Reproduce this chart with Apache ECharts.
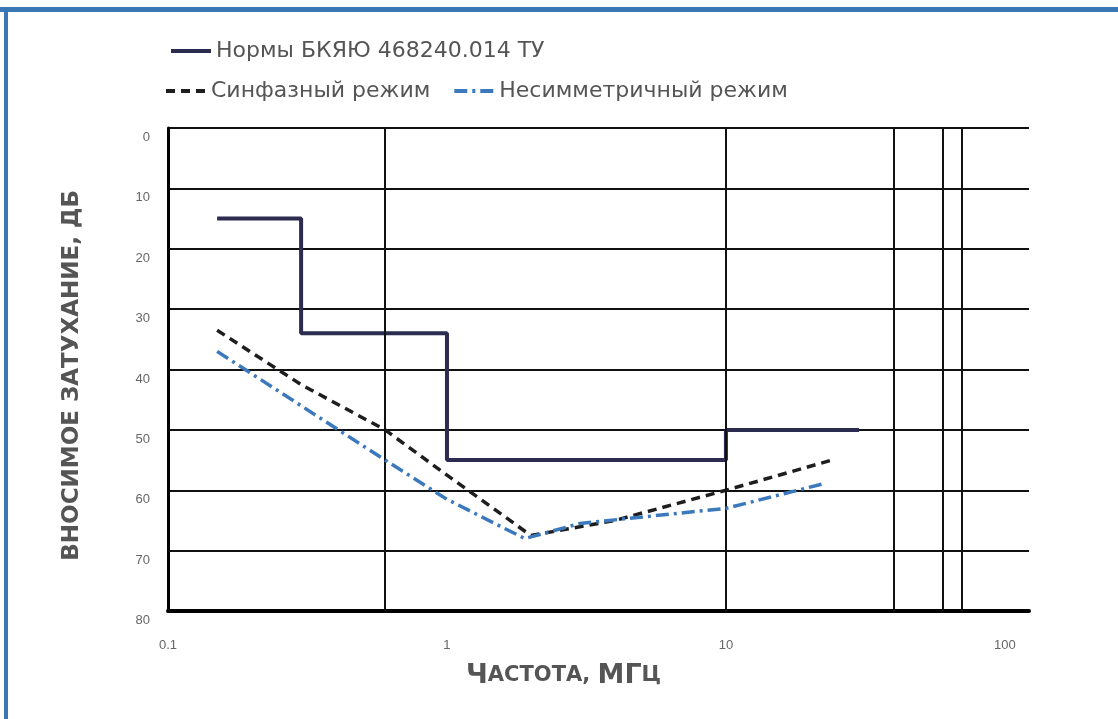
<!DOCTYPE html>
<html>
<head>
<meta charset="utf-8">
<script src="https://cdn.jsdelivr.net/npm/echarts@6/dist/echarts.min.js"></script>
<style>
  html, body { margin: 0; padding: 0; background: #fff; }
  #myChart { width: 1118px; height: 719px; }
</style>
</head>
<body>
<div id="myChart"></div>
<script>
// данные (x - МГц, y - дБ)
var normName = 'Нормы БКЯЮ 468240.014 ТУ';
var cmName = 'Синфазный режим';
var asymName = 'Несимметричный режим';

var normFreq = [0.15, 0.3, 0.3, 1, 1, 10, 10, 30];
var normVal  = [15, 15, 34, 34, 55, 55, 50, 50];

var cmFreq = [0.15, 0.3, 0.6, 1, 2, 4, 10, 24];
var cmVal  = [33.5, 42.5, 50, 57.5, 67.5, 65, 60, 55];

var asymFreq = [0.15, 0.3, 0.6, 1, 1.9, 3, 10, 22];
var asymVal  = [37, 46, 55, 61.5, 68, 65.5, 63, 59];

var xTickLabels = ['0.1', '1', '10', '100'];
var yTicks = [0, 10, 20, 30, 40, 50, 60, 70, 80];
var vLines = [0.6, 10, 40, 60, 70];

function pairs (xs, ys) {
  return xs.map(function (x, i) { return [x, ys[i]]; });
}

var myChart = echarts.init(document.getElementById('myChart'));
var legendText = { color: '#555', fontSize: 22, fontFamily: 'DejaVu Sans, sans-serif' };
var titleFont = 'DejaVu Sans, sans-serif';

var option = {
  animation: false,
  backgroundColor: '#fff',
  legend: [{
    data: [normName],
    left: 164,
    top: 35,
    itemWidth: 40,
    itemHeight: 14,
    itemGap: 8,
    itemStyle: { opacity: 0 },
    lineStyle: { width: 4 },
    textStyle: legendText
  }, {
    data: [cmName, asymName],
    left: 159,
    top: 75,
    itemGap: 22,
    itemWidth: 40,
    itemHeight: 14,
    itemStyle: { opacity: 0 },
    lineStyle: { width: 4 },
    textStyle: legendText
  }],
  grid: {
    left: 168,
    right: 89,
    top: 128,
    bottom: 108
  },
  xAxis: {
    type: 'log',
    logBase: 10,
    min: 0.1,
    max: 122,
    axisLine: { show: true, onZero: false, lineStyle: { color: '#000', width: 4 } },
    axisTick: { show: false },
    splitLine: { show: false },
    axisLabel: {
      margin: 28,
      color: '#666',
      fontSize: 13,
      hideOverlap: false,
      formatter: function (v) {
        var l = Math.log10(v);
        if (Math.abs(l - Math.round(l)) > 0.01) return '';
        return xTickLabels[Math.round(l) + 1] || '';
      }
    }
  },
  yAxis: {
    type: 'value',
    inverse: true,
    min: yTicks[0],
    max: yTicks[yTicks.length - 1],
    interval: 10,
    axisLine: { show: true, lineStyle: { color: '#000', width: 3 } },
    axisTick: { show: false },
    splitLine: { show: true, lineStyle: { color: '#111', width: 2 } },
    axisLabel: {
      margin: 18,
      color: '#666',
      fontSize: 13,
      verticalAlign: 'top',
      padding: [3, 0, 0, 0]
    }
  },
  graphic: [
    { type: 'rect', shape: { x: 0, y: 7, width: 1118, height: 5 }, style: { fill: '#3a77b5' } },
    { type: 'rect', shape: { x: 4, y: 7, width: 4, height: 712 }, style: { fill: '#3a77b5' } },
    {
      type: 'text',
      left: 61,
      top: 190,
      rotation: Math.PI / 2,
      style: {
        text: 'ВНОСИМОЕ ЗАТУХАНИЕ, ДБ',
        fill: '#555',
        font: 'bold 23px "DejaVu Sans", sans-serif'
      }
    },
    {
      type: 'text',
      left: 466,
      top: 662,
      style: {
        text: '{b|Ч}{s|АСТОТА, }{b|МГ}{s|Ц}',
        fill: '#555',
        rich: {
          b: { fontSize: 27, fontWeight: 'bold', fill: '#555', fontFamily: titleFont },
          s: { fontSize: 21, fontWeight: 'bold', fill: '#555', fontFamily: titleFont }
        }
      }
    }
  ],
  series: [{
    name: 'grid',
    type: 'line',
    data: [],
    z: 1,
    markLine: {
      silent: true,
      symbol: 'none',
      label: { show: false },
      lineStyle: { color: '#111', width: 2, type: 'solid' },
      data: vLines.map(function (v) { return { xAxis: v }; })
    }
  }, {
    name: normName,
    type: 'line',
    symbol: 'none',
    z: 3,
    data: pairs(normFreq, normVal),
    color: '#2c2b50',
    lineStyle: { color: '#2c2b50', width: 4 }
  }, {
    name: cmName,
    type: 'line',
    symbol: 'none',
    z: 4,
    data: pairs(cmFreq, cmVal),
    color: '#1e1e1e',
    lineStyle: { color: '#1e1e1e', width: 3.5, type: [9, 6] }
  }, {
    name: asymName,
    type: 'line',
    symbol: 'none',
    z: 5,
    data: pairs(asymFreq, asymVal),
    color: '#3b79bc',
    lineStyle: { color: '#3b79bc', width: 3.5, type: [13, 5, 3, 5] }
  }]
};

myChart.setOption(option);
</script>
</body>
</html>
